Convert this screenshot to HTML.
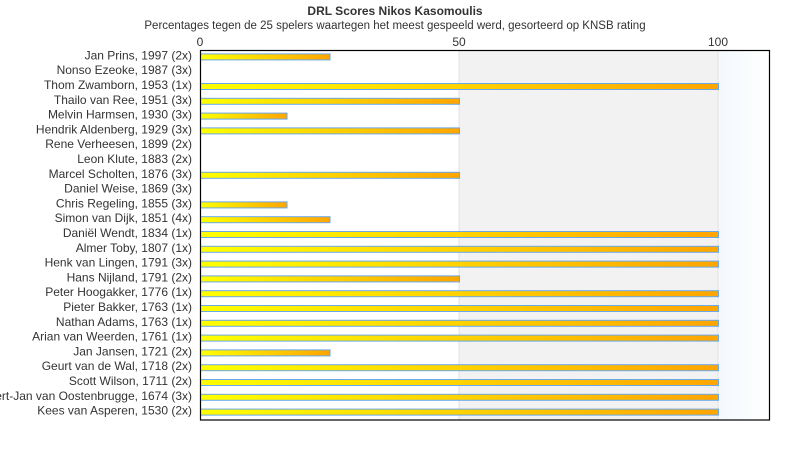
<!DOCTYPE html>
<html><head><meta charset="utf-8"><style>body{margin:0;background:#fff}svg{display:block;font-family:"Liberation Sans","DejaVu Sans",sans-serif}</style></head>
<body>
<svg id="c" width="790" height="450" xmlns="http://www.w3.org/2000/svg">
<defs>
<linearGradient id="bg2" x1="0" x2="1" y1="0" y2="0"><stop offset="0" stop-color="#f3f8fd"/><stop offset="1" stop-color="#ffffff"/></linearGradient>
<linearGradient id="bar" x1="0" x2="1" y1="0" y2="0"><stop offset="0" stop-color="#ffff00"/><stop offset="1" stop-color="#ffa500"/></linearGradient>
</defs>
<rect x="459" y="50" width="259" height="370" fill="#f2f2f2"/>
<rect x="718" y="50" width="52" height="370" fill="url(#bg2)"/>
<line x1="459" y1="50" x2="459" y2="420" stroke="#e2e2e2"/>
<line x1="718" y1="50" x2="718" y2="420" stroke="#e2e2e2"/>
<text x="395" y="15" text-anchor="middle" font-weight="bold" font-size="12" fill="#333">DRL Scores Nikos Kasomoulis</text>
<text x="395" y="29" text-anchor="middle" font-size="11.5" fill="#333">Percentages tegen de 25 spelers waartegen het meest gespeeld werd, gesorteerd op KNSB rating</text>
<text x="200" y="46" text-anchor="middle" font-size="12" fill="#333">0</text>
<text x="459" y="46" text-anchor="middle" font-size="12" fill="#333">50</text>
<text x="718" y="46" text-anchor="middle" font-size="12" fill="#333">100</text>
<g id="rows"></g>
<rect x="200.5" y="50.5" width="569" height="369.5" fill="none" stroke="#000" stroke-width="1.2"/>
</svg>
<script>
var d=[["Jan Prins, 1997 (2x)",25],["Nonso Ezeoke, 1987 (3x)",0],["Thom Zwamborn, 1953 (1x)",100],["Thailo van Ree, 1951 (3x)",50],["Melvin Harmsen, 1930 (3x)",16.7],["Hendrik Aldenberg, 1929 (3x)",50],["Rene Verheesen, 1899 (2x)",0],["Leon Klute, 1883 (2x)",0],["Marcel Scholten, 1876 (3x)",50],["Daniel Weise, 1869 (3x)",0],["Chris Regeling, 1855 (3x)",16.7],["Simon van Dijk, 1851 (4x)",25],["Daniël Wendt, 1834 (1x)",100],["Almer Toby, 1807 (1x)",100],["Henk van Lingen, 1791 (3x)",100],["Hans Nijland, 1791 (2x)",50],["Peter Hoogakker, 1776 (1x)",100],["Pieter Bakker, 1763 (1x)",100],["Nathan Adams, 1763 (1x)",100],["Arian van Weerden, 1761 (1x)",100],["Jan Jansen, 1721 (2x)",25],["Geurt van de Wal, 1718 (2x)",100],["Scott Wilson, 1711 (2x)",100],["Gert-Jan van Oostenbrugge, 1674 (3x)",100],["Kees van Asperen, 1530 (2x)",100]];
var s="";d.forEach(function(r,i){var c=50+14.8*(i+0.5);
s+='<text x="192" y="'+(c+2)+'" text-anchor="end" font-size="12" fill="#333">'+r[0]+'</text>';
if(r[1]>0){var w=r[1]*5.18;s+='<rect x="200.5" y="'+(c-3.5)+'" width="'+w+'" height="6" fill="url(#bar)" stroke="#6aa8e8" stroke-width="1"/>';}});
document.getElementById("rows").innerHTML=s;
</script>
</body></html>
